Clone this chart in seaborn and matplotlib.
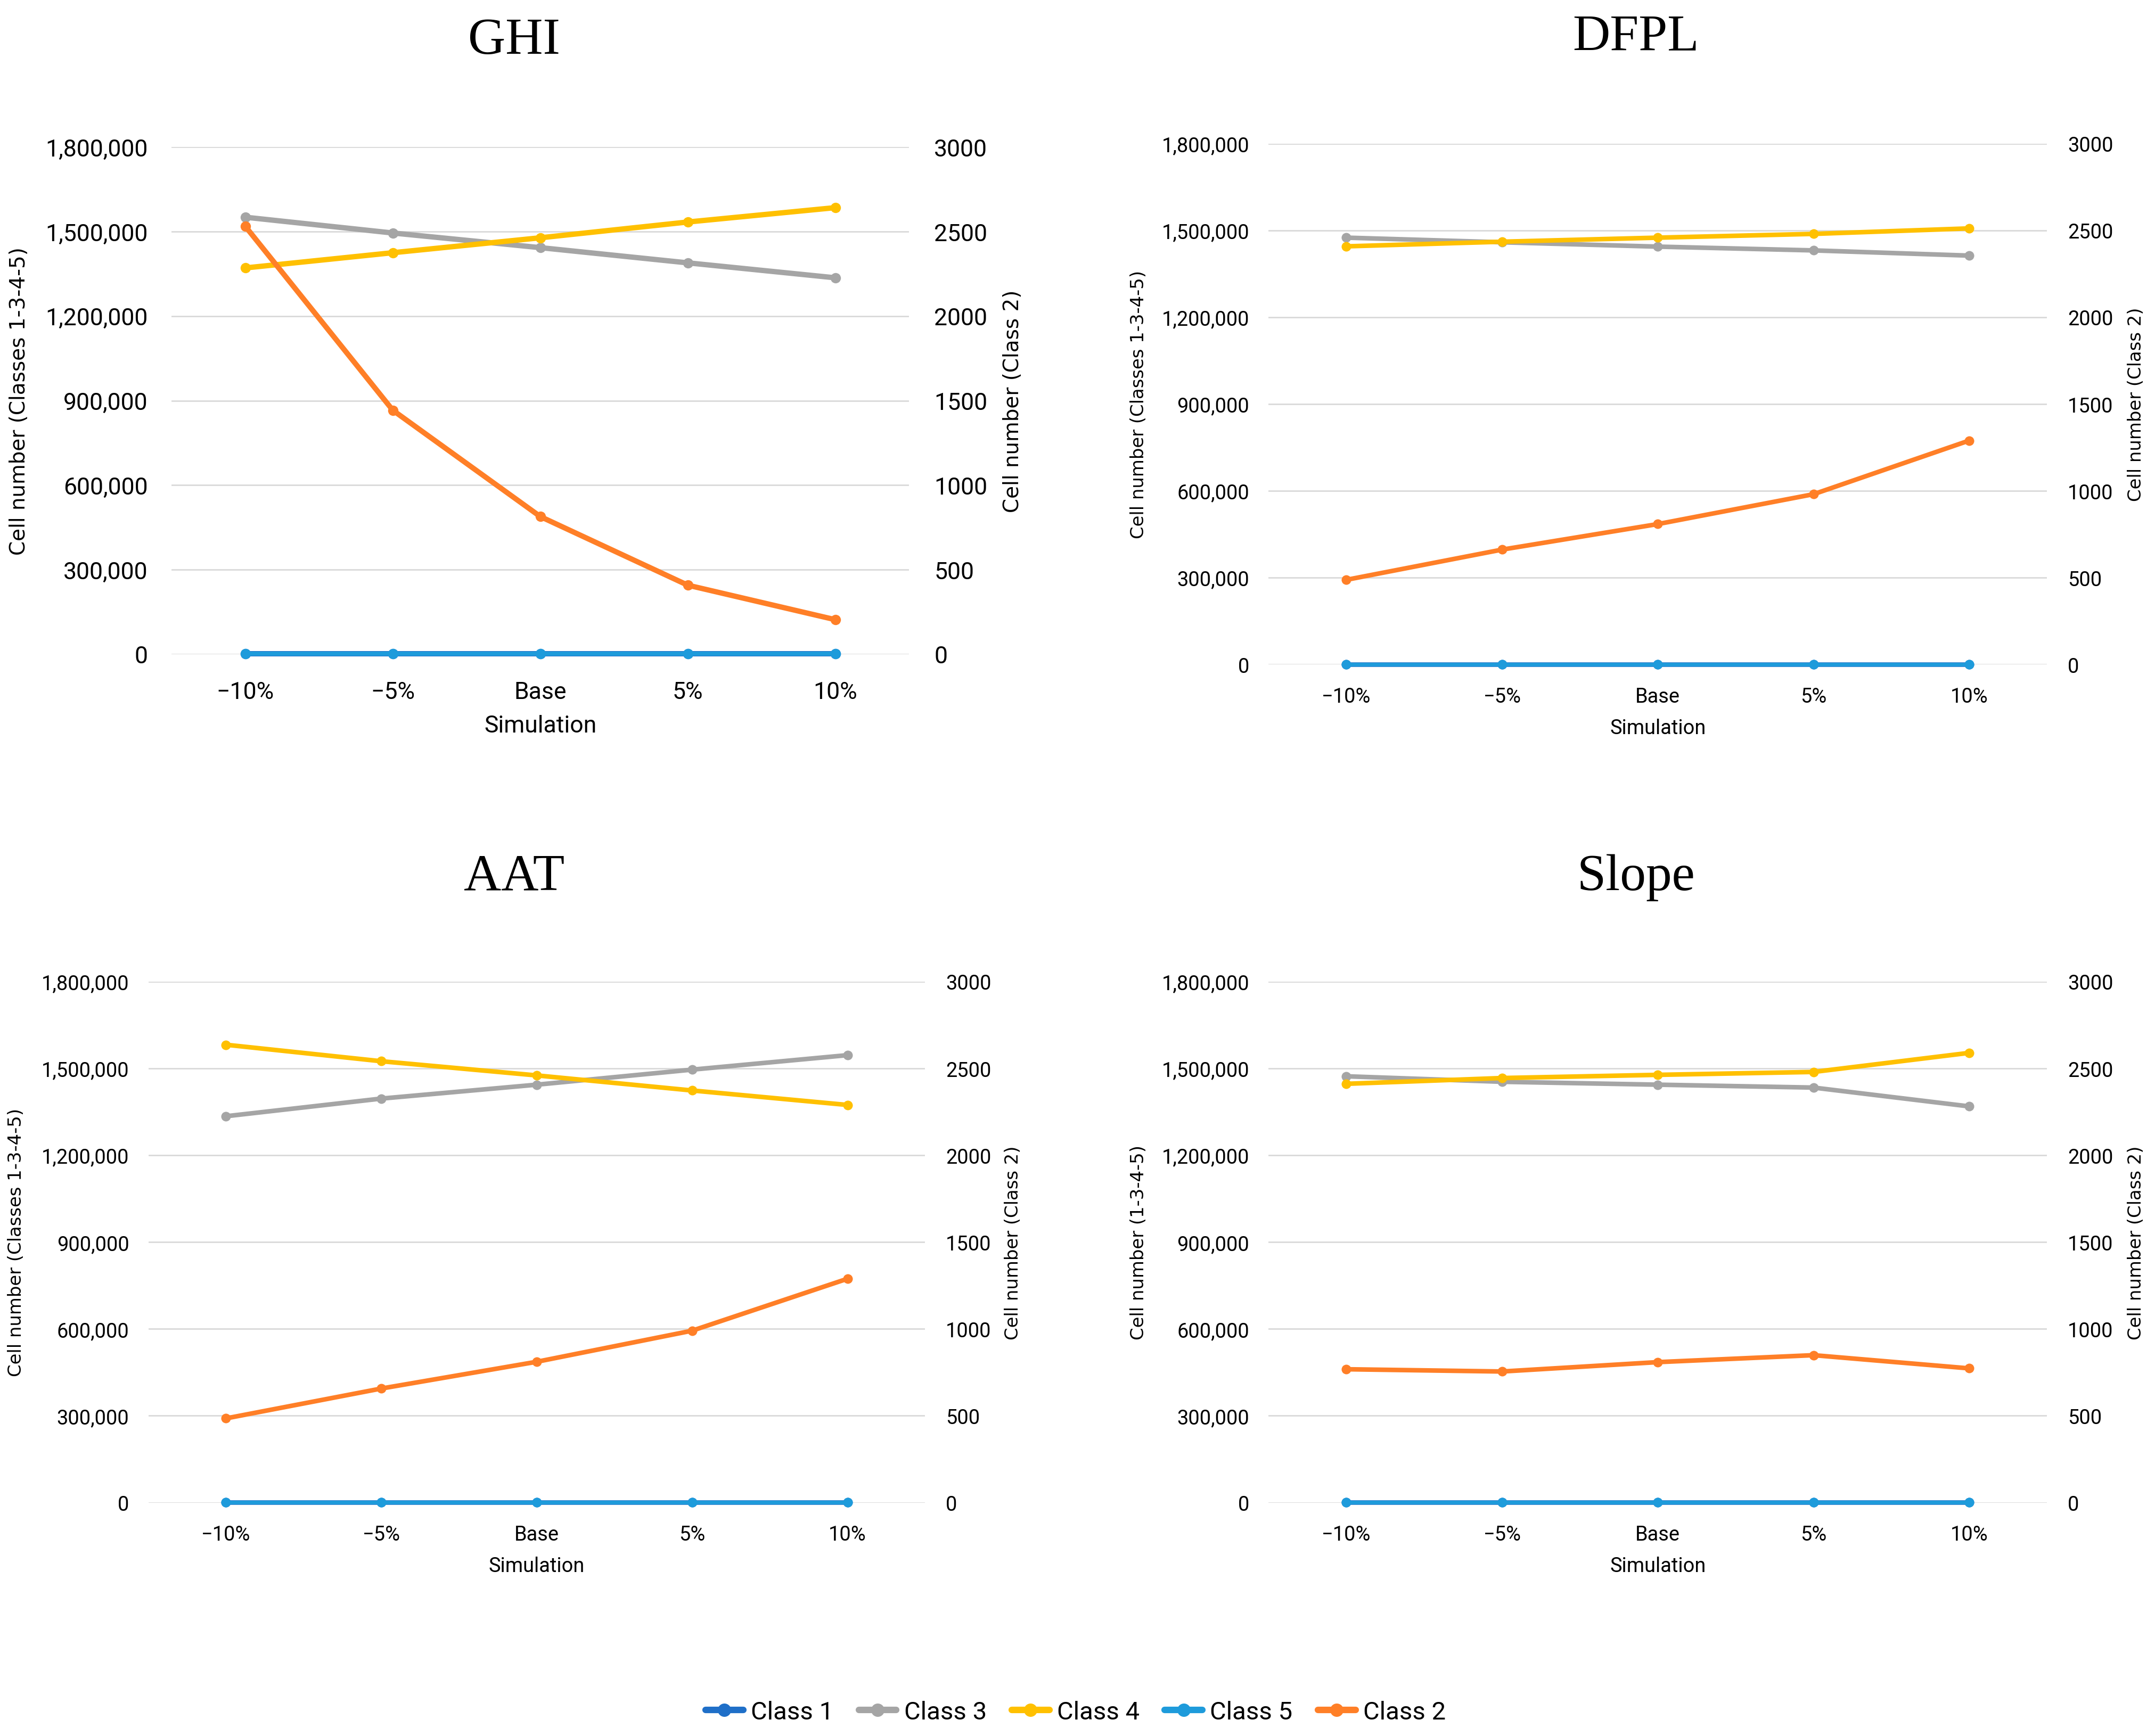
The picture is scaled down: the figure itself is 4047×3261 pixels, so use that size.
import numpy as np
import pandas as pd
import matplotlib.pyplot as plt
import seaborn as sns

# x categories
simulation = ["\u221210%", "\u22125%", "Base", "5%", "10%"]

# GHI
ghi_c1 = [900, 900, 900, 900, 900]
ghi_c3 = [1551000, 1495000, 1443000, 1389000, 1336000]
ghi_c4 = [1371000, 1425000, 1478000, 1534000, 1585000]
ghi_c5 = [1500, 1500, 1500, 1500, 1500]
ghi_c2 = [2531, 1443, 814, 408, 204]

# DFPL
dfpl_c1 = [900, 900, 900, 900, 900]
dfpl_c3 = [1475000, 1459000, 1444000, 1431000, 1413000]
dfpl_c4 = [1445000, 1461000, 1475000, 1488000, 1507000]
dfpl_c5 = [1500, 1500, 1500, 1500, 1500]
dfpl_c2 = [488, 662, 809, 981, 1290]

# AAT
aat_c1 = [900, 900, 900, 900, 900]
aat_c3 = [1335000, 1396000, 1444000, 1496000, 1546000]
aat_c4 = [1582000, 1525000, 1476000, 1424000, 1374000]
aat_c5 = [1500, 1500, 1500, 1500, 1500]
aat_c2 = [485, 657, 811, 990, 1289]

# Slope
slope_c1 = [900, 900, 900, 900, 900]
slope_c3 = [1473000, 1454000, 1444000, 1434000, 1369000]
slope_c4 = [1447000, 1467000, 1478000, 1488000, 1554000]
slope_c5 = [1500, 1500, 1500, 1500, 1500]
slope_c2 = [768, 755, 809, 849, 773]

left_ticks = [0, 300000, 600000, 900000, 1200000, 1500000, 1800000]
right_ticks = [0, 500, 1000, 1500, 2000, 2500, 3000]

colors = {"Class 1": "#1F6FC8", "Class 3": "#A5A5A5", "Class 4": "#FFC000",
          "Class 5": "#1E9BDB", "Class 2": "#FF7F27"}

sns.set_style("white")
plt.rcParams['font.family'] = ['Roboto', 'DejaVu Sans']
plt.rcParams['text.color'] = 'black'

fig = plt.figure(figsize=(20.24, 16.31), dpi=200)


def draw_panel(rect, title, c1, c3, c4, c5, c2, ylab, big, lab_x, title_x, title_y):
    ax = fig.add_axes(rect)
    ax2 = ax.twinx()
    tick_fs = 16 if big else 13.7
    lab_fs = 14 if big else 12.2
    lw = 3.6 if big else 3.1
    ms = 7 if big else 6.5

    df = pd.DataFrame({"pos": np.arange(len(simulation)), "Simulation": simulation,
                       "Class 1": c1, "Class 3": c3, "Class 4": c4,
                       "Class 5": c5, "Class 2": c2})

    for name in ["Class 1", "Class 3", "Class 4", "Class 5"]:
        w = lw * 0.8 if name == "Class 5" else lw
        sns.lineplot(data=df, x="pos", y=name, ax=ax, color=colors[name], lw=w,
                     marker="o", markersize=ms, markeredgewidth=0, label=name,
                     clip_on=False)
    sns.lineplot(data=df, x="pos", y="Class 2", ax=ax2, color=colors["Class 2"], lw=lw,
                 marker="o", markersize=ms, markeredgewidth=0, label="Class 2",
                 clip_on=False)

    ax.set_xlim(-0.5, len(simulation) - 0.5)
    ax.set_ylim(0, 1800000)
    ax2.set_ylim(0, 3000)
    ax.set_yticks(left_ticks)
    ax.set_yticklabels([f"{v:,}" for v in left_ticks])
    ax2.set_yticks(right_ticks)
    ax2.set_yticklabels([str(v) for v in right_ticks])
    ax.set_xticks(df["pos"])
    ax.set_xticklabels(df["Simulation"])

    ax.grid(axis="y", color="#D9D9D9", lw=1.0)
    ax.grid(axis="x", visible=False)
    ax2.grid(False)
    for a in (ax, ax2):
        for s in a.spines.values():
            s.set_visible(False)
        a.set_xlabel("")
        a.set_ylabel("")
    pad = 16 if big else 13
    ax.tick_params(axis="y", length=0, pad=pad, labelsize=tick_fs, colors="#000000")
    ax.tick_params(axis="x", length=0, pad=pad + 2, labelsize=tick_fs, colors="#000000")
    ax2.tick_params(axis="y", length=0, pad=pad + 1, labelsize=tick_fs, colors="#000000")

    h1, l1 = ax.get_legend_handles_labels()
    h2, l2 = ax2.get_legend_handles_labels()
    ax.get_legend().remove()
    ax2.get_legend().remove()

    ax.text(lab_x[0], 0.5, ylab, transform=ax.transAxes, rotation=90,
            ha="center", va="center", fontsize=lab_fs, family="DejaVu Sans")
    ax.text(lab_x[1], 0.5, "Cell number (Class 2)", transform=ax.transAxes, rotation=90,
            ha="center", va="center", fontsize=lab_fs, family="DejaVu Sans")
    ax.text(0.5, lab_x[2], "Simulation", transform=ax.transAxes,
            ha="center", va="center", fontsize=tick_fs)
    ax.text(title_x, title_y, title, transform=ax.transAxes, ha="center", va="center",
            fontsize=35, family=["Liberation Serif", "DejaVu Serif"])
    return h1 + h2, l1 + l2


handles, labels = draw_panel([0.0796, 0.623, 0.3421, 0.292], "GHI",
                             ghi_c1, ghi_c3, ghi_c4, ghi_c5, ghi_c2,
                             "Cell number (Classes 1-3-4-5)", True,
                             (-0.2065, 1.141, -0.141), 0.4645, 1.209)
draw_panel([0.5885, 0.617, 0.3612, 0.300], "DFPL",
           dfpl_c1, dfpl_c3, dfpl_c4, dfpl_c5, dfpl_c2,
           "Cell number (Classes 1-3-4-5)", False,
           (-0.167, 1.114, -0.122), 0.4717, 1.204)
draw_panel([0.0688, 0.1344, 0.3604, 0.300], "AAT",
           aat_c1, aat_c3, aat_c4, aat_c5, aat_c2,
           "Cell number (Classes 1-3-4-5)", False,
           (-0.170, 1.113, -0.122), 0.4707, 1.201)
draw_panel([0.5885, 0.1344, 0.3612, 0.300], "Slope",
           slope_c1, slope_c3, slope_c4, slope_c5, slope_c2,
           "Cell number (1-3-4-5)", False,
           (-0.167, 1.114, -0.122), 0.4717, 1.201)

leg = fig.legend(handles, labels, loc="center", bbox_to_anchor=(0.499, 0.0138),
                 ncol=5, frameon=False, handlelength=1.5, handletextpad=0.3,
                 columnspacing=1.0,
                 prop={"family": ["Roboto", "DejaVu Sans"], "size": 17})
for line in leg.get_lines():
    line.set_linewidth(4.4)
    line.set_markersize(9)

fig.savefig("out.png", dpi=200, facecolor="white")
